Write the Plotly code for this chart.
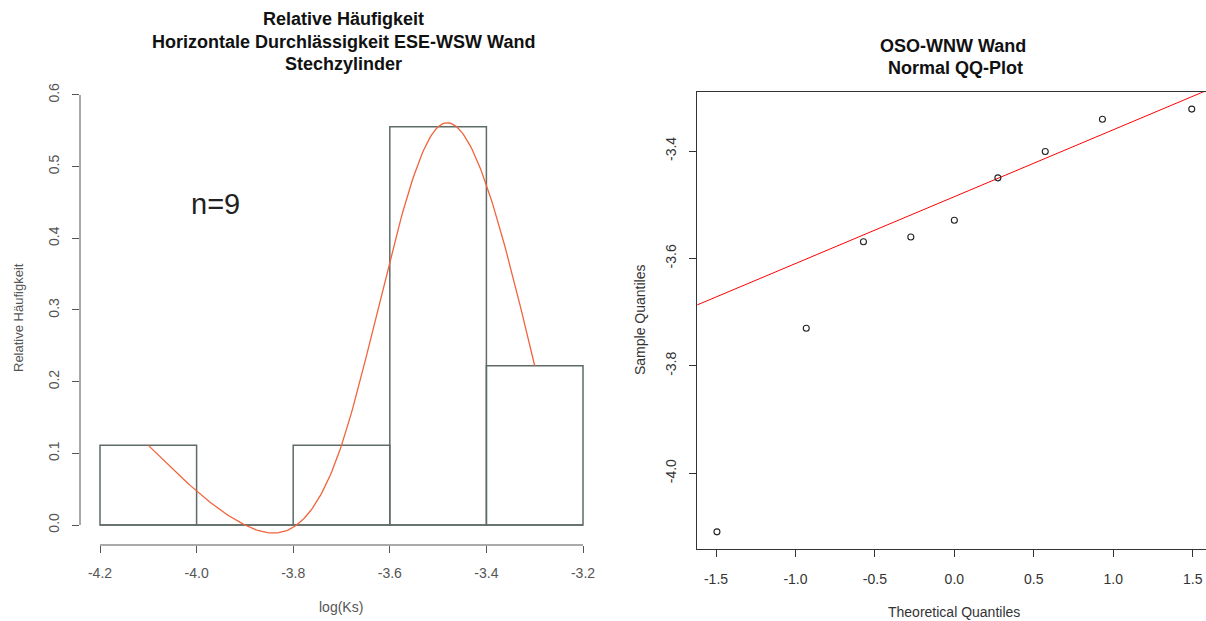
import numpy as np
import plotly.graph_objects as go

# ---------------- data ----------------
bin_edges = [-4.2, -4.0, -3.8, -3.6, -3.4, -3.2]
bin_mids = [-4.1, -3.9, -3.7, -3.5, -3.3]
rel_freq = [1 / 9, 0.0, 1 / 9, 5 / 9, 2 / 9]
n_label = "n=9"

hist_xticks = [-4.2, -4.0, -3.8, -3.6, -3.4, -3.2]
hist_yticks = [0.0, 0.1, 0.2, 0.3, 0.4, 0.5, 0.6]

theo_q = [-1.494, -0.932, -0.572, -0.274, 0.0, 0.274, 0.572, 0.932, 1.494]
sample_q = [-4.109, -3.730, -3.569, -3.560, -3.529, -3.450, -3.401, -3.341, -3.322]

qq_xticks = [-1.5, -1.0, -0.5, 0.0, 0.5, 1.0, 1.5]
qq_yticks = [-4.0, -3.8, -3.6, -3.4]

# ---------------- helpers ----------------
W, H = 1206, 621
def px(x):
    return x / W
def py(y):
    return 1 - y / H

def natural_spline(xk, yk, xs):
    xk = np.asarray(xk, float); yk = np.asarray(yk, float)
    n = len(xk); h = np.diff(xk)
    A = np.zeros((n, n)); b = np.zeros(n)
    A[0, 0] = 1; A[-1, -1] = 1
    for i in range(1, n - 1):
        A[i, i - 1] = h[i - 1]
        A[i, i] = 2 * (h[i - 1] + h[i])
        A[i, i + 1] = h[i]
        b[i] = 6 * ((yk[i + 1] - yk[i]) / h[i] - (yk[i] - yk[i - 1]) / h[i - 1])
    M = np.linalg.solve(A, b)
    out = []
    for x in xs:
        i = min(max(np.searchsorted(xk, x) - 1, 0), n - 2)
        t1 = xk[i + 1] - x; t0 = x - xk[i]; hi = h[i]
        v = (M[i] * t1 ** 3 + M[i + 1] * t0 ** 3) / (6 * hi) \
            + (yk[i] / hi - M[i] * hi / 6) * t1 + (yk[i + 1] / hi - M[i + 1] * hi / 6) * t0
        out.append(v)
    return np.array(out)

curve_x = np.linspace(bin_mids[0], bin_mids[-1], 241)
curve_y = natural_spline(bin_mids, rel_freq, curve_x)

# qqline through the quartiles (as R's qqline)
q1, q3 = np.quantile(sample_q, [0.25, 0.75])
z1, z3 = -0.6744897501960817, 0.6744897501960817
slope = (q3 - q1) / (z3 - z1)
intercept = q1 - slope * z1
line_x = [-1.7, 1.7]
line_y = [intercept + slope * v for v in line_x]

FONT = "Liberation Sans, Arial, sans-serif"
BAR_COL = "#5f6b66"
AX_L = "#555555"
AX_R = "#333333"

fig = go.Figure()

# --- left: histogram ---
fig.add_trace(go.Scatter(x=[bin_edges[0], bin_edges[-1]], y=[0, 0], mode="lines",
                         line=dict(color=BAR_COL, width=1.5), xaxis="x", yaxis="y",
                         hoverinfo="skip"))
fig.add_trace(go.Bar(x=bin_mids, y=rel_freq, width=0.2,
                     marker=dict(color="rgba(255,255,255,0)", line=dict(color=BAR_COL, width=1.5)),
                     xaxis="x", yaxis="y"))
fig.add_trace(go.Scatter(x=curve_x, y=curve_y, mode="lines",
                         line=dict(color="#f0643c", width=1.3), xaxis="x", yaxis="y"))

# --- right: QQ plot ---
fig.add_trace(go.Scatter(x=line_x, y=line_y, mode="lines",
                         line=dict(color="#ff0000", width=1), xaxis="x2", yaxis="y2"))
fig.add_trace(go.Scatter(x=theo_q, y=sample_q, mode="markers",
                         marker=dict(symbol="circle-open", size=6, color="#222222",
                                     line=dict(width=1.1)),
                         xaxis="x2", yaxis="y2"))

# axis geometry (left)
sx = 483.0  # px per unit
x_left_range = [-4.2 - (100 - 80) / sx, -4.2 + (602 - 100) / sx]
sy = 716.7
y_left_range = [-(545 - 525) / sy, (525 - 78) / sy]

# axis geometry (right)
sx2 = 158.9
x2_range = [-1.5 - (716 - 697.3) / sx2, 1.5 + (1206 - 1192.7) / sx2]
sy2 = 537.2
y2_range = [-4.0 - (549.3 - 473.3) / sy2, -3.4 + (151 - 91.7) / sy2]

tickfont_l = dict(family=FONT, size=14, color=AX_L)
tickfont_r = dict(family=FONT, size=14, color=AX_R)

fig.update_layout(
    width=W, height=H,
    margin=dict(l=0, r=0, t=0, b=0),
    paper_bgcolor="white", plot_bgcolor="white",
    showlegend=False,
    font=dict(family=FONT),
    xaxis=dict(domain=[px(80), px(602)], range=x_left_range, anchor="y",
               showgrid=False, zeroline=False, showline=False,
               ticks="outside", ticklen=7, tickcolor=AX_L, tickwidth=1,
               tickvals=hist_xticks, ticktext=[f"{v:.1f}" for v in hist_xticks],
               tickfont=tickfont_l, ticklabelstandoff=8),
    yaxis=dict(domain=[py(545), py(78)], range=y_left_range, anchor="x",
               showgrid=False, zeroline=False, showline=False,
               ticks="outside", ticklen=7, tickcolor=AX_L, tickwidth=1,
               tickvals=hist_yticks, ticktext=[f"{v:.1f}" for v in hist_yticks],
               tickangle=-90, tickfont=tickfont_l, ticklabelstandoff=7),
    xaxis2=dict(domain=[px(697.3), 1.0], range=x2_range, anchor="y2",
                showgrid=False, zeroline=False, showline=True, mirror=True,
                linecolor=AX_R, linewidth=1,
                ticks="outside", ticklen=7, tickcolor=AX_R, tickwidth=1,
                tickvals=qq_xticks, ticktext=[f"{v:.1f}" for v in qq_xticks],
                tickfont=tickfont_r, ticklabelstandoff=10),
    yaxis2=dict(domain=[py(549.3), py(91.7)], range=y2_range, anchor="x2",
                showgrid=False, zeroline=False, showline=True, mirror=False,
                linecolor=AX_R, linewidth=1,
                ticks="outside", ticklen=7, tickcolor=AX_R, tickwidth=1,
                tickvals=qq_yticks, ticktext=[f"{v:.1f}" for v in qq_yticks],
                tickangle=-90, tickfont=tickfont_r, ticklabelstandoff=8),
)

# R-style detached axis lines for the histogram
fig.add_shape(type="line", xref="x domain", yref="y", x0=0, x1=0,
              y0=hist_yticks[0], y1=hist_yticks[-1], line=dict(color=AX_L, width=1))
fig.add_shape(type="line", xref="x", yref="y domain", x0=hist_xticks[0], x1=hist_xticks[-1],
              y0=0, y1=0, line=dict(color=AX_L, width=1))

ann = []
def text(x, y, s, size=14, color="#333333", bold=False, angle=0):
    ann.append(dict(x=px(x), y=py(y), xref="paper", yref="paper", text=(f"<b>{s}</b>" if bold else s),
                    showarrow=False, xanchor="center", yanchor="middle", textangle=angle,
                    font=dict(family=FONT, size=size, color=color)))

# left titles
text(343, 19, "Relative Häufigkeit", size=18, color="#111111", bold=True)
text(343, 42, "Horizontale Durchlässigkeit ESE-WSW Wand", size=18, color="#111111", bold=True)
text(343, 64, "Stechzylinder", size=18, color="#111111", bold=True)
text(341, 607, "log(Ks)", size=14, color=AX_L)
text(18, 318, "Relative Häufigkeit", size=13, color=AX_L, angle=-90)
# right titles
text(953, 46, "OSO-WNW Wand", size=18, color="#111111", bold=True)
text(955, 68, "Normal QQ-Plot", size=18, color="#111111", bold=True)
text(954, 612, "Theoretical Quantiles", size=14, color=AX_R)
text(640, 320, "Sample Quantiles", size=14, color=AX_R, angle=-90)

fig.update_layout(annotations=ann)
fig.add_annotation(x=-3.961, y=0.448, xref="x", yref="y", text=n_label, showarrow=False,
                   xanchor="center", yanchor="middle",
                   font=dict(family=FONT, size=29, color="#222222"))

fig.write_html("out.html", config={"displayModeBar": False})

# remove the browser's default page margin so the figure sits at (0, 0)
with open("out.html", "r", encoding="utf-8") as f:
    html = f.read()
html = html.replace("<head>", "<head><style>html,body{margin:0;padding:0;overflow:hidden;}</style>", 1)
with open("out.html", "w", encoding="utf-8") as f:
    f.write(html)
